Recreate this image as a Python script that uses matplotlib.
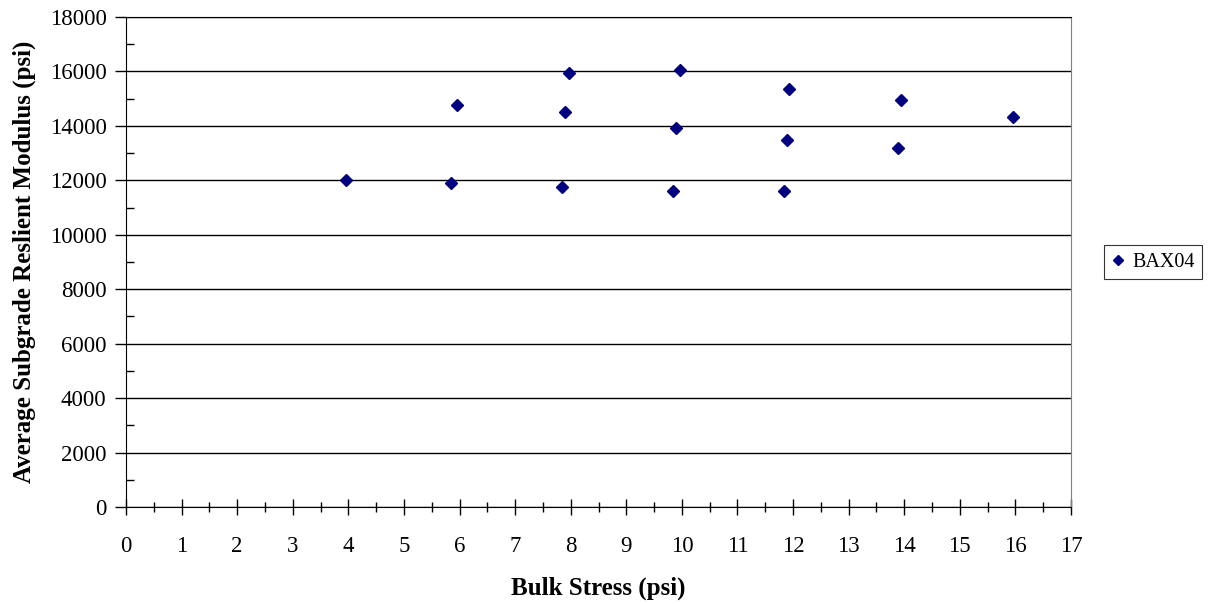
import matplotlib
matplotlib.use('Agg')
import matplotlib.pyplot as plt
from matplotlib.ticker import MultipleLocator

# Bulk stress (psi) and average subgrade resilient modulus (psi)
bulk_stress = [3.95, 5.84, 5.96, 7.85, 7.89, 7.97, 9.84, 9.90, 9.96,
               11.83, 11.89, 11.93, 13.88, 13.94, 15.95]
modulus = [12030, 11900, 14780, 11740, 14500, 15950, 11620, 13920, 16070,
           11610, 13490, 15340, 13190, 14940, 14340]
series_name = 'BAX04'

plt.rcParams['font.family'] = ['Liberation Serif', 'DejaVu Serif']

fig = plt.figure(figsize=(12.16, 6.04), dpi=100)
ax = fig.add_axes([126/1216, 1 - 507/604, 945/1216, 490/604])

ax.plot(bulk_stress, modulus, linestyle='none', marker='D', markersize=6.3,
        color='#000080', label=series_name, zorder=3)

ax.set_xlim(0, 17)
ax.set_ylim(0, 18000)
ax.xaxis.set_major_locator(MultipleLocator(1))
ax.xaxis.set_minor_locator(MultipleLocator(0.5))
ax.yaxis.set_major_locator(MultipleLocator(2000))
ax.yaxis.set_minor_locator(MultipleLocator(1000))

ax.grid(axis='y', which='major', color='black', linewidth=1)
ax.set_axisbelow(True)

ax.tick_params(axis='x', which='major', direction='inout', length=12, width=1, pad=15, labelsize=16.5)
ax.tick_params(axis='x', which='minor', direction='inout', length=7, width=1)
ax.tick_params(axis='y', which='major', direction='out', length=8, width=1, pad=6, labelsize=16.5)
ax.tick_params(axis='y', which='minor', direction='in', length=6, width=1)

for side in ['left', 'bottom', 'top']:
    ax.spines[side].set_color('black')
ax.spines['right'].set_color('#808080')

ax.set_xlabel('Bulk Stress (psi)', fontsize=18, fontweight='bold', labelpad=14)
ax.set_ylabel('Average Subgrade Reslient Modulus (psi)', fontsize=18, fontweight='bold', labelpad=10)

leg = fig.legend(loc='center', bbox_to_anchor=(1153/1216, 1 - 262/604), fontsize=14.5,
                 frameon=True, fancybox=False, edgecolor='black', handlelength=0.7,
                 handletextpad=0.4, borderpad=0.35, markerscale=0.75)
leg.get_frame().set_linewidth(0.8)

fig.savefig('out.png', dpi=100)
